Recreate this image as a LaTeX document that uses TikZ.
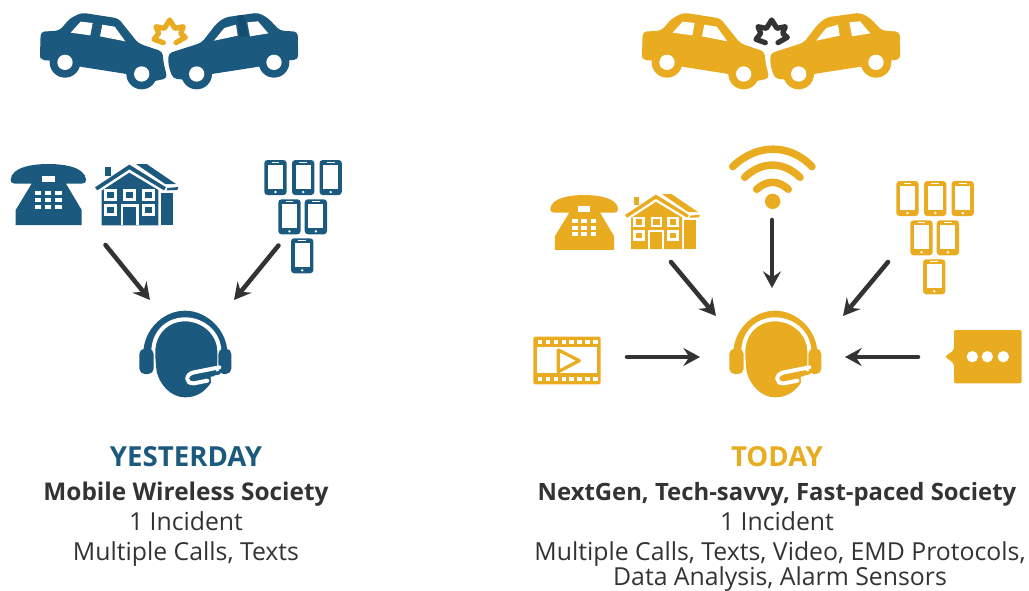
\documentclass[tikz,border=0pt]{standalone}
\usepackage{fontspec}
\setmainfont{Open Sans}
\usetikzlibrary{arrows.meta}
\definecolor{cblue}{HTML}{1B5A7E}
\definecolor{cyell}{HTML}{E9AB1F}
\definecolor{cdark}{HTML}{333333}
\definecolor{cdarkb}{HTML}{154C72}
\tikzset{
 link/.style={draw=cdark,line width=3.4pt,line cap=round,-{Stealth[length=12.5pt,width=13.5pt,inset=4.5pt]}},
 headtext/.style={anchor=base,inner sep=0pt,font=\fontsize{20.7pt}{22pt}\selectfont\bfseries},
 subtext/.style={anchor=base,inner sep=0pt,text=cdark,font=\fontsize{18.3pt}{20pt}\selectfont\bfseries},
 subtextb/.style={anchor=base,inner sep=0pt,text=cdark,font=\fontsize{17.9pt}{20pt}\selectfont\bfseries},
 bodytext/.style={anchor=base,inner sep=0pt,text=cdark,font=\fontsize{18.6pt}{20pt}\selectfont},
 pics/cars/.style 2 args={code={
  \fill[#1,rounded corners=3pt] (60,168)--(62,95)--(118,92)--(150,55)--(185,38)--(295,55)--(355,130)--(428,155)--(430,185)--(442,235)--(395,245)--(320,222)--(180,200)--(95,182)--(62,180)--cycle;
  \fill[#1] (135,187) circle[radius=46] (365,222) circle[radius=46];
  \fill[white] (135,187) circle[radius=23] (365,222) circle[radius=23];
  \fill[white] (152,98)--(182,65)--(218,69)--(211,106)--cycle;
  \fill[white] (247,74)--(284,80)--(316,124)--(240,109)--cycle;
  \fill[#1,rounded corners=3pt] (445,160)--(545,128)--(590,70)--(615,52)--(715,38)--(745,55)--(780,92)--(833,95)--(835,178)--(800,182)--(717,200)--(575,222)--(495,240)--(458,235)--(445,195)--cycle;
  \fill[#1] (530,222) circle[radius=46] (762,187) circle[radius=46];
  \fill[white] (530,222) circle[radius=23] (762,187) circle[radius=23];
  \fill[white] (582,122)--(613,84)--(648,74)--(653,107)--cycle;
  \fill[white] (682,67)--(714,64)--(745,100)--(690,109)--cycle;
  \draw[#2,line width=3.9pt,line join=round,line cap=round] (468,128)--(496,112)--(482,100)--(490,80)--(465,85)--(449,60)--(433,85)--(408,80)--(416,100)--(402,118)--(430,128);
 }},
 pics/phone/.style={code={
  \fill[#1] (32,88) .. controls (36,52) and (95,42) .. (145,42) .. controls (195,42) and (254,52) .. (258,88) .. controls (258,98) and (252,101) .. (245,101) -- (198,101) -- (245,180) -- (245,225) -- (47,225) -- (47,180) -- (95,101) -- (45,101) .. controls (38,101) and (32,98) .. (32,88) -- cycle;
  \fill[white] (125,78) rectangle (165,97);
  \foreach \kx in {105,135,166}{\foreach \ky in {123,144,165}{\fill[white] (\kx,\ky) rectangle +(19,13);}}
 }},
 pics/house/.style={code={
  \fill[#1] (46,22) rectangle (62,48);
  \fill[#1] (15,82)--(118,14)--(228,82)--(222,91)--(118,28)--(22,91)--cycle;
  \fill[#1] (138,12)--(170,12)--(258,72)--(226,72)--cycle;
  \fill[#1] (232,84)--(265,81)--(262,90)--(230,91)--cycle;
  \fill[#1] (35,196)--(35,92)--(118,38)--(205,90)--(205,196)--cycle;
  \fill[#1] (213,98) rectangle (250,196);
  \foreach \wx/\wy in {42/88,100/88,156/88,42/133,156/133}{
    \fill[white] (\wx,\wy) rectangle +(38,34);
    \fill[#1] (\wx+8,\wy+8) rectangle +(22,18);}
  \fill[white] (92,133) rectangle (146,196);
  \fill[#1] (99,140) rectangle (139,196);
 }},
 pics/mobile/.style={code={
  \fill[#1,rounded corners=2.4pt] (0,0) rectangle (67,105);
  \fill[white] (11,15) rectangle (56,87);
  \draw[white,line width=.6pt] (22,6.5)--(45,6.5);
  \fill[white] (33.5,96) circle[radius=4];
 }},
 pics/agent/.style={code={
  \fill[#1] (70,190) .. controls (70,120) and (130,62) .. (195,62) .. controls (260,62) and (322,120) .. (322,190) -- (295,190) .. controls (295,230) and (285,260) .. (270,282) .. controls (250,310) and (225,322) .. (195,322) .. controls (150,322) and (118,280) .. (110,245) -- (104,190) -- cycle;
  \draw[white,line width=3pt] (100,245) -- (100,185) .. controls (100,130) and (140,88) .. (195,88) .. controls (250,88) and (298,130) .. (298,185) -- (298,225);
  \fill[#1,rounded corners=4pt] (58,176) rectangle (101,252);
  \fill[#1,rounded corners=4pt] (295,176) rectangle (334,252);
  \draw[white,line width=3pt,line cap=round] (298,232) -- (222,247) .. controls (195,252) and (195,282) .. (222,280) -- (262,272);
  \fill[white] (272,260) -- (320,254) -- (320,300) -- (274,284) -- cycle;
  \draw[#1,line width=2.6pt,line cap=round] (213,265) -- (298,248);
 }},
 pics/film/.style={code={
  \fill[#1,rounded corners=1.5pt] (40,50) rectangle (242,193);
  \fill[white] (52,82) rectangle (230,160);
  \foreach \fx in {53,77,101,125,148,172,196,220}{
   \fill[white] (\fx,60) rectangle +(13,12);
   \fill[white] (\fx,172) rectangle +(13,12);}
  \draw[#1,line width=2.4pt,line join=round,fill=white] (115,90)--(178,122)--(115,155)--cycle;
 }},
 pics/bubble/.style={code={
  \fill[#1,rounded corners=1.5pt] (72,30) -- (275,30) -- (275,190) -- (72,190) -- (72,130) -- (45,110) -- (72,90) -- cycle;
  \fill[white] (127,110) circle[radius=17] (172,110) circle[radius=17] (220,110) circle[radius=17];
 }},
 pics/wifi/.style={code={
  \draw[#1,line width=5.6pt,line cap=round] (38,80) .. controls (110,10) and (210,10) .. (276,80);
  \draw[#1,line width=5.6pt,line cap=round] (74,112) .. controls (125,63) and (190,63) .. (240,112);
  \draw[#1,line width=5.6pt,line cap=round] (110,148) .. controls (140,120) and (175,120) .. (205,148);
  \fill[#1] (158,184) circle[radius=23];
 }},
}
\begin{document}
\begin{tikzpicture}[x=0.75pt,y=-0.75pt]
\useasboundingbox (0,0) rectangle (1029,590);
% cars
\pic[scale=1/3] at (20,0) {cars={cblue}{cyell}};
\fill[cdarkb] (236.7,15.7)--(244,15)--(248.3,36)--(240,37.3)--cycle;
\pic[scale=1/3] at (622,0) {cars={cyell}{cdark}};
% left sources
\pic[scale=1/3] at (0,150) {phone=cblue};
\pic[scale=1/3] at (90,160) {house=cblue};
\foreach \mx/\my in {264.3/160,292/160,319.5/160,278.3/199.3,304.7/199.3,291/238.3}{
 \pic[scale=1/3] at (\mx,\my) {mobile=cblue};}
\pic[scale=1/3] at (120,290) {agent=cblue};
% right sources
\pic[scale=.3] at (540.7,182.4) {phone=cyell};
\pic[scale=.3] at (620.5,190.4) {house=cyell};
\foreach \mx/\my in {896.3/181,924/181,951.5/181,910.3/220.3,936.7/220.3,923/259.3}{
 \pic[scale=1/3] at (\mx,\my) {mobile=cyell};}
\pic[scale=1/3] at (720,140) {wifi=cyell};
\pic[scale=1/3] at (710,290) {agent=cyell};
\pic[scale=1/3] at (520,320) {film=cyell};
\pic[scale=1/3] at (930,320) {bubble=cyell};
% connectors
\coordinate (lhome) at (105.5,245);
\coordinate (lmob) at (278.5,245.5);
\coordinate (lagentA) at (150,300);
\coordinate (lagentB) at (234,300);
\coordinate (rhome) at (671,262);
\coordinate (rmob) at (888,262);
\coordinate (rwifi) at (772,220);
\coordinate (rfilm) at (627,357);
\coordinate (rtext) at (918,357);
\coordinate (ragentA) at (716,316);
\coordinate (ragentB) at (843,316);
\coordinate (ragentC) at (772,288);
\coordinate (ragentD) at (700,357);
\coordinate (ragentE) at (845,357);
\draw[link] (lhome) -- (lagentA);
\draw[link] (lmob) -- (lagentB);
\draw[link] (rhome) -- (ragentA);
\draw[link] (rmob) -- (ragentB);
\draw[link] (rwifi) -- (ragentC);
\draw[link] (rfilm) -- (ragentD);
\draw[link] (rtext) -- (ragentE);
% text
\node[headtext,text=cblue] (t1) at (186,466) {YESTERDAY};
\node[subtext] (t2) at (186,500) {Mobile Wireless Society};
\node[bodytext] (t3) at (186,530) {1 Incident};
\node[bodytext] (t4) at (186,560) {Multiple Calls, Texts};
\node[headtext,text=cyell] (t5) at (777,466) {TODAY};
\node[subtextb] (t6) at (777,500) {NextGen, Tech-savvy, Fast-paced Society};
\node[bodytext] (t7) at (777,530) {1 Incident};
\node[bodytext] (t8) at (780,560) {Multiple Calls, Texts, Video, EMD Protocols,};
\node[bodytext] (t9) at (780,585) {Data Analysis, Alarm Sensors};
\end{tikzpicture}
\end{document}
